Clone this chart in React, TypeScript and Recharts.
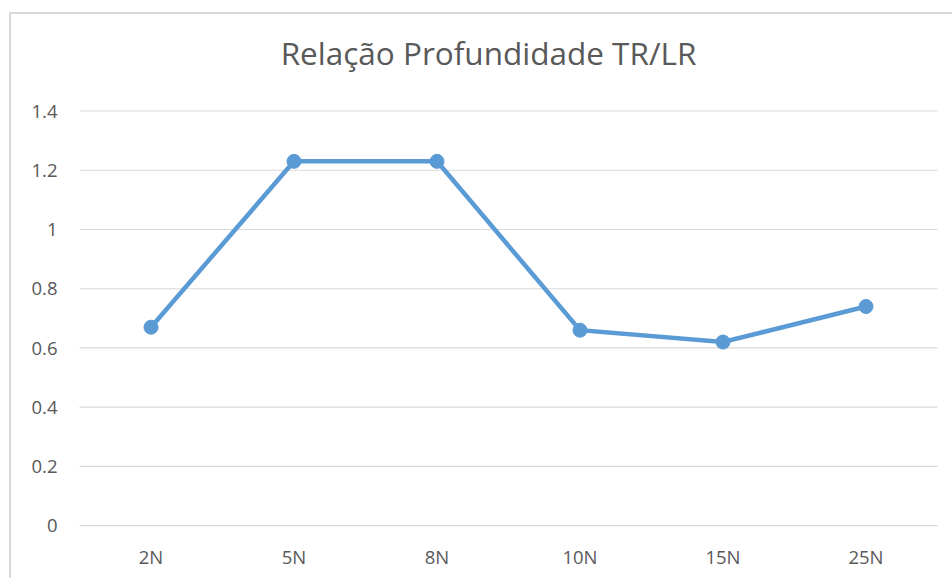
import React from "react";
import { LineChart, Line, XAxis, YAxis, CartesianGrid } from "recharts";

const categories = ["2N", "5N", "8N", "10N", "15N", "25N"];
const ratio = [0.67, 1.23, 1.23, 0.66, 0.62, 0.74];
const yTicks = [0, 0.2, 0.4, 0.6, 0.8, 1, 1.2, 1.4];
const title = "Relação Profundidade TR/LR";

const data = categories.map((c, i) => ({ name: c, value: ratio[i] }));

const FONT = "'Open Sans', 'Noto Sans', sans-serif";
const TXT = "#595959";

export default function App() {
  return (
    <div style={{ position: "absolute", left: 0, top: 0, width: 952, height: 578, background: "#fff", overflow: "hidden", fontFamily: FONT }}>
      <div style={{ position: "absolute", left: 9, top: 12, width: 943, height: 566, borderLeft: "2px solid #d9d9d9", borderTop: "2px solid #d9d9d9", boxSizing: "border-box" }} />
      <div style={{ position: "absolute", left: 0, top: 34, width: 977, textAlign: "center", fontSize: 31.5, color: TXT, lineHeight: "38px" }}>
        {title}
      </div>
      <div style={{ position: "absolute", left: 0, top: 0 }}>
        <LineChart width={952} height={578} data={data} margin={{ top: 111, right: 14.5, bottom: 22.3, left: 0 }}>
          <CartesianGrid vertical={false} stroke="#d9d9d9" strokeWidth={1.2} />
          <XAxis
            dataKey="name"
            height={30}
            padding={{ left: 71.5, right: 71.5 }}
            axisLine={false}
            tickLine={false}
            tickSize={0}
            tickMargin={25}
            tick={{ fill: TXT, fontSize: 18.5, fontFamily: FONT }}
          />
          <YAxis
            width={79.5}
            domain={[0, 1.4]}
            ticks={yTicks}
            axisLine={false}
            tickLine={false}
            tickSize={0}
            tickMargin={22}
            tick={{ fill: TXT, fontSize: 18.5, fontFamily: FONT }}
          />
          <Line
            type="linear"
            dataKey="value"
            stroke="#5b9bd5"
            strokeWidth={4.5}
            dot={{ r: 7, fill: "#5b9bd5", stroke: "#5b9bd5", strokeWidth: 1 }}
            activeDot={false}
            isAnimationActive={false}
          />
        </LineChart>
      </div>
    </div>
  );
}
